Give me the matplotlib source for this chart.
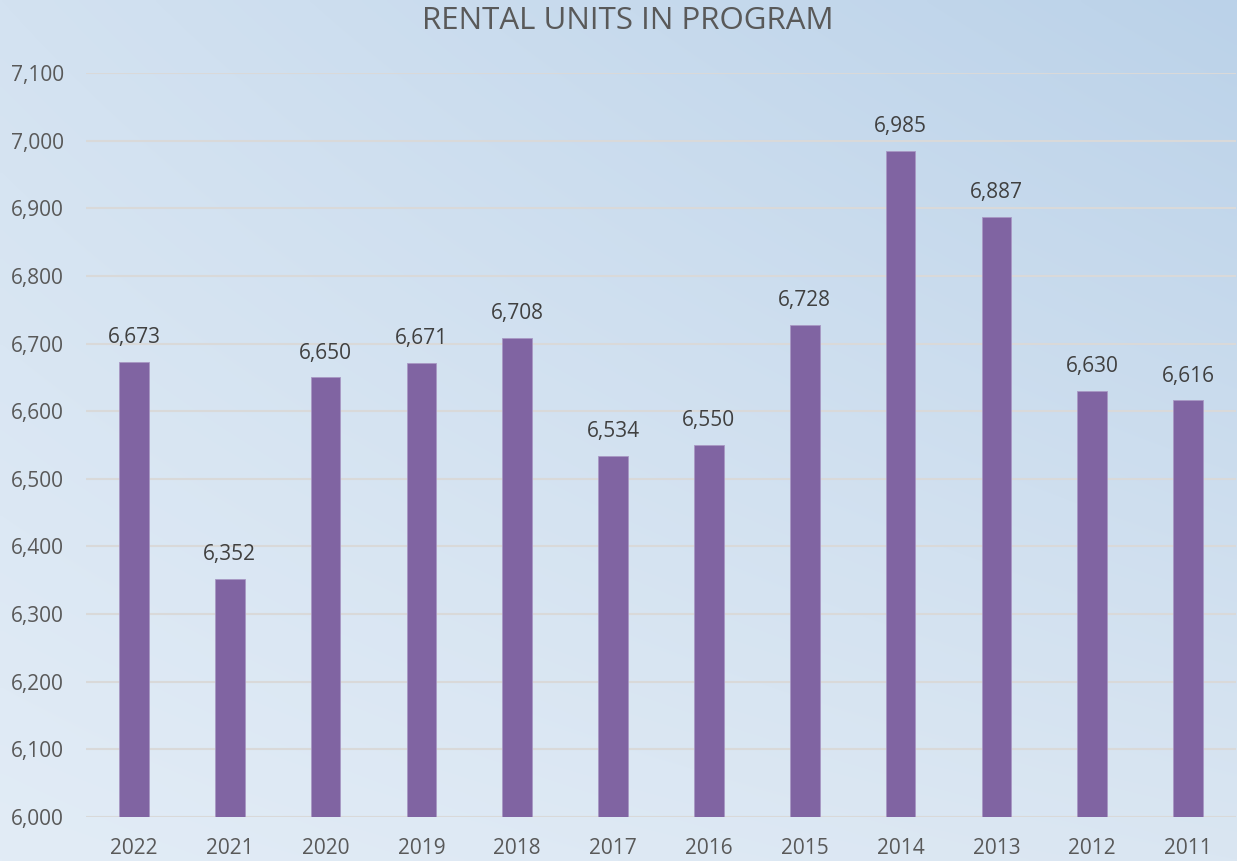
import matplotlib
matplotlib.use('Agg')
import matplotlib.pyplot as plt
import numpy as np
from matplotlib.ticker import FuncFormatter

years = ['2022', '2021', '2020', '2019', '2018', '2017',
         '2016', '2015', '2014', '2013', '2012', '2011']
units = [6673, 6352, 6650, 6671, 6708, 6534,
         6550, 6728, 6985, 6887, 6630, 6616]
y_ticks = list(range(6000, 7101, 100))

BAR_COLOR = '#8064A2'
TEXT_COLOR = '#595959'
LABEL_COLOR = '#404040'
GRID_COLOR = '#D9D9D9'

plt.rcParams['font.family'] = ['Open Sans', 'DejaVu Sans']

fig = plt.figure(figsize=(12.37, 8.61), dpi=100)

# soft blue gradient behind everything (corners: TL, TR, BL, BR)
bg = fig.add_axes([0, 0, 1, 1], zorder=0)
tl = np.array([0xD3, 0xE2, 0xF1]) / 255
tr = np.array([0xBB, 0xD2, 0xE9]) / 255
bl = np.array([0xE2, 0xEC, 0xF6]) / 255
br = np.array([0xDA, 0xE6, 0xF2]) / 255
u = np.linspace(0, 1, 256)[None, :, None]
v = np.linspace(0, 1, 256)[:, None, None]
grad = (1 - v) * ((1 - u) * tl + u * tr) + v * ((1 - u) * bl + u * br)
bg.imshow(grad, aspect='auto', extent=[0, 1, 0, 1], interpolation='bilinear')
bg.axis('off')

ax = fig.add_axes([86 / 1237, 1 - 817 / 861, 1150 / 1237, (817 - 73) / 861], zorder=1)
ax.set_facecolor('none')

x = np.arange(len(years))
ax.bar(x, units, width=0.31, color=BAR_COLOR, edgecolor='#A898C4',
       linewidth=0.6, zorder=3)

for xi, val in zip(x, units):
    ax.annotate(f'{val:,}', (xi, val), xytext=(0, 13.5), textcoords='offset points',
                ha='center', va='baseline', fontsize=15, color=LABEL_COLOR)

ax.set_xlim(-0.5, len(years) - 0.5)
ax.set_ylim(6000, 7100)
ax.set_yticks(y_ticks)
ax.yaxis.set_major_formatter(FuncFormatter(lambda v, p: f'{int(v):,}'))
ax.set_xticks(x)
ax.set_xticklabels(years)
ax.grid(axis='y', color=GRID_COLOR, linewidth=1.5, zorder=0)
ax.set_axisbelow(True)
ax.tick_params(axis='both', length=0, labelsize=15, colors=TEXT_COLOR)
ax.tick_params(axis='y', pad=16)
ax.tick_params(axis='x', pad=15)
for s in ax.spines.values():
    s.set_visible(False)

fig.text(628 / 1237, 1 - 29 / 861, 'RENTAL UNITS IN PROGRAM', ha='center',
         va='baseline', fontsize=22.5, color=TEXT_COLOR)

fig.savefig('out.png', dpi=100)
